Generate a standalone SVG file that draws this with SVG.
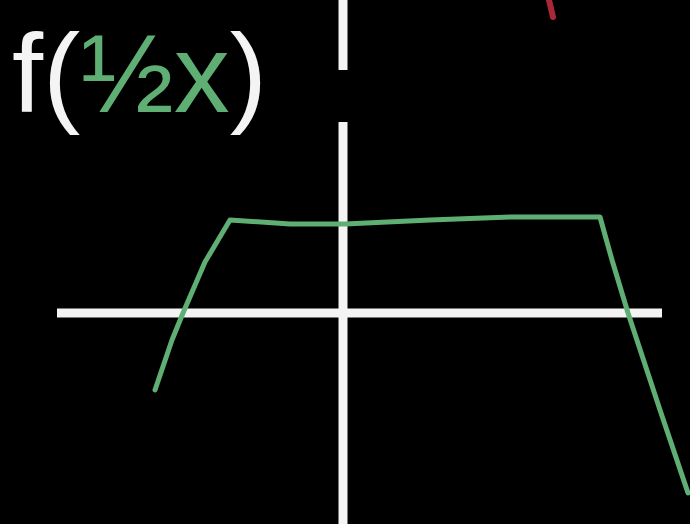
<svg xmlns="http://www.w3.org/2000/svg" width="690" height="524" viewBox="0 0 690 524">
<style>
.axis{stroke:#f4f4f4;stroke-width:9;fill:none}
.curve{stroke:#5fae74;stroke-width:5;fill:none;stroke-linejoin:round;stroke-linecap:round}
.lbl{font-family:"Liberation Sans",Arial,sans-serif;font-size:112px;fill:#f4f4f4}
.g{fill:#5fae74}
</style>
<rect width="690" height="524" fill="#000"/>
<g id="axes">
<line class="axis" x1="343" y1="0" x2="343" y2="70"/>
<line class="axis" x1="343" y1="122" x2="343" y2="524"/>
<line class="axis" x1="57" y1="313" x2="662" y2="313"/>
</g>
<g id="connectors">
<polyline class="curve" points="155,390 172,340 183,313 205,262 230,220 290,224 345,224 430,220 510,217 600,217 612,260 628,313 660,410 688,493"/>
</g>
<g id="label">
<text class="lbl" x="12" y="112">f(<tspan class="g">½x</tspan>)</text>
</g>
<g id="mark">
<line x1="549" y1="0" x2="553" y2="17" stroke="#a8283a" stroke-width="6" stroke-linecap="round"/>
</g>
</svg>
